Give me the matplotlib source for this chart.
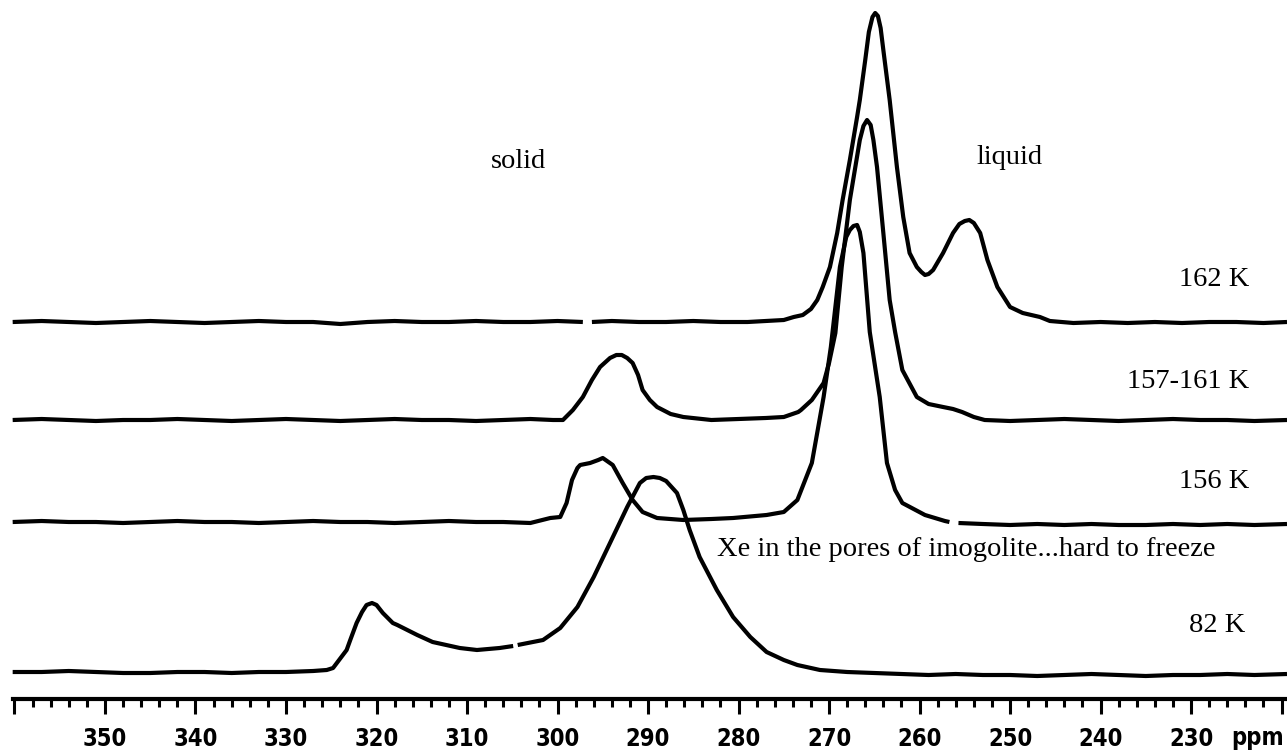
import numpy as np
import matplotlib.pyplot as plt
from matplotlib.ticker import MultipleLocator, FuncFormatter

# spectra: chemical shift (ppm) and height above each trace's baseline
ppm_162 = [360.2, 357, 354, 351, 348, 345, 342, 339, 336, 333, 330, 327, 324, 321, 318, 315,
           312, 309, 306, 303, 300, 297.2, np.nan, 296.2, 294, 291, 288, 285, 282, 279, 277,
           275, 273.9, 272.9, 272, 271.3, 270.7, 269.9, 269.1, 268.5, 267.7, 266.9, 266.6, 266,
           265.6, 265.2, 264.9, 264.6, 264.3, 264, 263.3, 262.5, 261.8, 261.1, 260.3, 259.8,
           259.4, 259.0, 258.5, 257.4, 256.3, 255.6, 255.0, 254.5, 254.0, 253.3, 252.5, 251.4,
           250, 248.6, 246.7, 245.6, 243, 240, 237, 234, 231, 228, 225, 222, 219.4]
h_162 = [0, 1, 0, -1, 0, 1, 0, -1, 0, 1, 0, 0, -2, 0, 1, 0,
         0, 1, 0, 0, 1, 0, np.nan, 0, 1, 0, 0, 1, 0, 0, 1,
         2, 5, 7, 13, 22, 35, 55, 89, 122, 162, 205, 222, 262,
         290, 305, 309, 306, 294, 272, 222, 155, 105, 69, 55, 50,
         47, 48, 52, 69, 89, 98, 101, 102, 99, 89, 62, 35,
         15, 9, 5, 1, -1, 0, -1, 0, -1, 0, 0, -1, 0]

ppm_157 = [360.2, 357, 354, 351, 348, 345, 342, 339, 336, 333, 330, 327, 324, 321, 318, 315,
           312, 309, 306, 303, 300.5, 299.4, 298.3, 297.2, 296.2, 295.3, 294.2, 293.5, 292.9,
           292.3, 291.7, 291.1, 290.6, 289.8, 289, 287.5, 286.1, 283, 280, 277, 275, 273.4,
           273.1, 271.9, 270.6, 270, 269.3, 268.6, 267.7, 266.6, 266.2, 265.8, 265.4, 265.1,
           264.7, 264, 263.3, 262.7, 261.9, 260.3, 259, 257.4, 256.3, 255.3, 254, 252.8, 250,
           247, 244, 241, 238, 235, 232, 229, 226, 223, 219.4]
h_157 = [0, 1, 0, -1, 0, 0, 1, 0, -1, 0, 1, 0, -1, 0, 1, 0,
         0, -1, 0, 1, 0, 0, 10, 23, 40, 53, 62, 65, 65,
         62, 57, 45, 30, 20, 13, 6, 3, 0, 1, 2, 3, 8,
         10, 20, 37, 57, 87, 153, 220, 280, 294, 300, 295, 280,
         253, 187, 120, 88, 50, 23, 16, 13, 11, 8, 3, 0, -1,
         0, 1, 0, -1, 0, 1, 0, 0, -1, 0]

ppm_156 = [360.2, 357, 354, 351, 348, 345, 342, 339, 336, 333, 330, 327, 324, 321, 318, 315,
           312, 309, 306, 303, 300.8, 299.7, 299, 298.4, 297.8, 297.5, 296.4, 295.5, 295, 293.9,
           292.8, 291.7, 290.6, 289, 286.1, 283, 280.6, 276.9, 275, 273.5, 271.9, 270.6, 269.8,
           268.8, 268.1, 267.7, 267.3, 266.9, 266.6, 266.2, 265.5, 264.4, 263.6, 262.7, 261.9,
           259.4, 257.2, 256.7, np.nan, 255.7, 253, 250, 247, 244, 241, 238, 235, 232, 229, 226,
           223, 219.4]
h_156 = [0, 1, 0, 0, -1, 0, 1, 0, 0, -1, 0, 1, 0, 0, -1, 0,
         1, 0, 0, -1, 4, 5, 19, 42, 54, 57, 59, 62, 64, 57,
         39, 22, 10, 4, 2, 3, 4, 7, 10, 22, 59, 125, 175,
         255, 285, 292, 296, 297, 290, 269, 190, 125, 59, 32, 19,
         7, 1, 0, np.nan, -1, -2, -3, -2, -3, -2, -3, -3, -2, -3, -2,
         -3, -2]

ppm_82 = [360.2, 357, 354, 351, 348, 345, 342, 339, 336, 333, 330, 327, 325.5, 324.8, 323.3,
          322.9, 322.2, 321.6, 321.1, 320.5, 320.0, 319.3, 318.2, 317.7, 315.5, 313.8, 310.8,
          308.9, 306.4, 304.9, np.nan, 304.4, 301.6, 299.7, 297.8, 296, 294.2, 292.3, 290.9,
          290.2, 289.4, 288.7, 288, 286.8, 286.1, 285.4, 284.3, 282.4, 280.6, 278.7, 276.9,
          275, 273.5, 271, 268, 265, 262, 259, 256, 253, 250, 247, 244, 241, 238, 235, 232,
          229, 226, 223, 219.4]
h_82 = [0, 0, 1, 0, -1, -1, 0, 0, -1, 0, 0, 1, 2, 4, 22,
        32, 49, 60, 67, 69, 67, 59, 49, 47, 37, 30, 24,
        22, 24, 26, np.nan, 27, 32, 44, 65, 95, 129, 165, 189,
        194, 195, 194, 191, 179, 162, 142, 115, 82, 55, 35, 20,
        12, 7, 2, 0, -1, -2, -3, -2, -3, -3, -4, -3, -2, -3, -4, -3,
        -3, -2, -3, -2]

traces = [(ppm_162, h_162, 430), (ppm_157, h_157, 332), (ppm_156, h_156, 230), (ppm_82, h_82, 80)]

fig = plt.figure(figsize=(12.87, 7.52), dpi=100)
ax = fig.add_axes([0, 0, 1, 1])

for x, h, off in traces:
    ax.plot(x, np.array(h, dtype=float) + off, color='black', lw=3,
            solid_capstyle='butt', solid_joinstyle='round')

ax.set_xlim(361.6, 219.4)
ax.set_ylim(0, 752)

# ruler-like ppm axis
for s in ['top', 'left', 'right']:
    ax.spines[s].set_visible(False)
ax.spines['bottom'].set_position(('data', 53))
ax.spines['bottom'].set_bounds(360.2, 219.4)
ax.spines['bottom'].set_linewidth(3)
ax.set_yticks([])
ax.xaxis.set_major_locator(MultipleLocator(10))
ax.xaxis.set_minor_locator(MultipleLocator(2))
ax.xaxis.set_major_formatter(FuncFormatter(lambda v, p: '' if v > 355 or v < 225 else '%d' % v))
ax.tick_params(axis='x', which='major', direction='out', length=11, width=2.2, pad=9,
               labelsize=17)
ax.tick_params(axis='x', which='minor', direction='out', length=6, width=2.2)
for lab in ax.get_xticklabels():
    lab.set_fontweight('bold')
    lab.set_fontstretch('condensed')
ax.text(222.6, 14, 'ppm', fontsize=17, fontweight='bold', fontstretch='condensed',
        ha='center', va='center')

serif = 'Liberation Serif'
fs = 20.5
ax.text(304.3, 591, 'solid', family=serif, fontsize=fs, ha='center', va='center')
ax.text(250.1, 595, 'liquid', family=serif, fontsize=fs, ha='center', va='center')
ax.text(223.6, 473, '162 K', family=serif, fontsize=fs, ha='right', va='center')
ax.text(223.6, 370, '157-161 K', family=serif, fontsize=fs, ha='right', va='center')
ax.text(223.6, 270, '156 K', family=serif, fontsize=fs, ha='right', va='center')
ax.text(282.4, 203, 'Xe in the pores of imogolite...hard to freeze', family=serif,
        fontsize=fs, ha='left', va='center')
ax.text(224.0, 126, '82 K', family=serif, fontsize=fs, ha='right', va='center')

fig.savefig('out.png', dpi=100)
